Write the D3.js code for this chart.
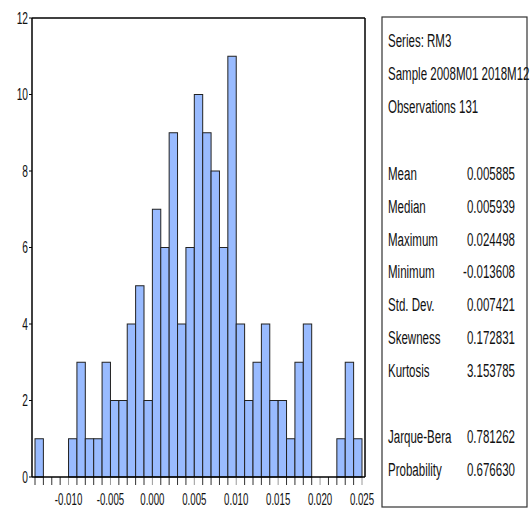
<!DOCTYPE html>
<html>
<head>
<meta charset="utf-8">
<script src="https://cdn.jsdelivr.net/npm/d3@7"></script>
<style>
  html, body { margin: 0; padding: 0; background: #fff; }
  svg { display: block; font-family: "Liberation Sans", Arial, sans-serif; }
</style>
</head>
<body>
<svg id="chart" width="530" height="515"></svg>
<script>
// Histogram of RM3: lower edge of each 0.001-wide bin and its count
const binLower = [
  -0.014, -0.013, -0.012, -0.011, -0.010, -0.009, -0.008, -0.007, -0.006, -0.005,
  -0.004, -0.003, -0.002, -0.001, 0.000, 0.001, 0.002, 0.003, 0.004, 0.005,
  0.006, 0.007, 0.008, 0.009, 0.010, 0.011, 0.012, 0.013, 0.014, 0.015,
  0.016, 0.017, 0.018, 0.019, 0.020, 0.021, 0.022, 0.023, 0.024
];
const counts = [
  1, 0, 0, 0, 1, 3, 1, 1, 3, 2,
  2, 4, 5, 2, 7, 6, 9, 4, 6, 10,
  9, 8, 6, 11, 4, 2, 3, 4, 2, 2,
  1, 3, 4, 0, 0, 0, 1, 3, 1
];
const binWidth = 0.001;

const xTickValues = [-0.010, -0.005, 0.000, 0.005, 0.010, 0.015, 0.020, 0.025];
const yTickValues = [0, 2, 4, 6, 8, 10, 12];

// Summary statistics panel
const headerLines = ["Series: RM3", "Sample 2008M01 2018M12", "Observations 131"];
const statNames = ["Mean", "Median", "Maximum", "Minimum", "Std. Dev.", "Skewness", "Kurtosis"];
const statValues = ["0.005885", "0.005939", "0.024498", "-0.013608", "0.007421", "0.172831", "3.153785"];
const testNames = ["Jarque-Bera", "Probability"];
const testValues = ["0.781262", "0.676630"];

const svg = d3.select("#chart");

const x = d3.scaleLinear().domain([-0.014, 0.025]).range([35, 362]);
const y = d3.scaleLinear().domain([0, 12]).range([477, 18]);
const frameLeft = x.range()[0] - 3;
const frameRight = x.range()[1] + 3;

// condensed text helper
function ctext(g, tx, ty, str, opts) {
  const o = Object.assign({ size: 18, sx: 0.64, anchor: "start" }, opts || {});
  return g.append("text")
    .attr("transform", `translate(${tx},${ty}) scale(${o.sx},1)`)
    .attr("text-anchor", o.anchor)
    .attr("dy", "0.35em")
    .attr("font-size", o.size)
    .attr("fill", "#111")
    .text(str);
}

// bars
const bars = svg.append("g");
binLower.forEach((lo, i) => {
  if (counts[i] <= 0) return;
  bars.append("rect")
    .attr("x", x(lo))
    .attr("y", y(counts[i]))
    .attr("width", x(lo + binWidth) - x(lo))
    .attr("height", y(0) - y(counts[i]))
    .attr("fill", "#99bbff")
    .attr("stroke", "#222")
    .attr("stroke-width", 1);
});

// frame: top and right borders
svg.append("line")
  .attr("x1", frameLeft).attr("x2", frameRight)
  .attr("y1", y(12)).attr("y2", y(12))
  .attr("stroke", "#000").attr("stroke-width", 1.5);
svg.append("line")
  .attr("x1", frameRight).attr("x2", frameRight)
  .attr("y1", y(12)).attr("y2", y(0))
  .attr("stroke", "#000").attr("stroke-width", 1.5);

// y axis
const yAxis = svg.append("g");
yAxis.append("line")
  .attr("x1", frameLeft).attr("x2", frameLeft)
  .attr("y1", y(12)).attr("y2", y(0))
  .attr("stroke", "#000").attr("stroke-width", 1.5);
yTickValues.forEach(v => {
  yAxis.append("line")
    .attr("x1", frameLeft - 3).attr("x2", frameLeft)
    .attr("y1", y(v)).attr("y2", y(v))
    .attr("stroke", "#000");
  ctext(yAxis, frameLeft - 4, y(v), String(v), { size: 17, sx: 0.6, anchor: "end" });
});

// x axis
const xAxis = svg.append("g");
binLower.concat([0.025]).forEach(v => {
  const major = xTickValues.some(t => Math.abs(t - v) < 1e-9);
  xAxis.append("line")
    .attr("x1", x(v)).attr("x2", x(v))
    .attr("y1", y(0)).attr("y2", y(0) + 8)
    .attr("stroke", major ? "#999" : "#333");
});
xAxis.append("line")
  .attr("x1", frameLeft).attr("x2", frameRight)
  .attr("y1", y(0)).attr("y2", y(0))
  .attr("stroke", "#000").attr("stroke-width", 1.5);
xTickValues.forEach(v => {
  ctext(xAxis, x(v), 499, d3.format(".3f")(v).replace("−", "-"), { size: 17, sx: 0.57, anchor: "middle" });
});

// statistics box
const box = svg.append("g");
box.append("rect")
  .attr("x", 382).attr("y", 17)
  .attr("width", 145).attr("height", 490)
  .attr("fill", "#fff")
  .attr("stroke", "#333").attr("stroke-width", 1.2);

const lineStep = 32.7;
headerLines.forEach((t, i) => ctext(box, 388, 41 + i * lineStep, t));
statNames.forEach((t, i) => {
  ctext(box, 388, 174 + i * lineStep, t);
  ctext(box, 515, 174 + i * lineStep, statValues[i], { anchor: "end" });
});
testNames.forEach((t, i) => {
  ctext(box, 388, 437 + i * lineStep, t);
  ctext(box, 515, 437 + i * lineStep, testValues[i], { anchor: "end" });
});
</script>
</body>
</html>
